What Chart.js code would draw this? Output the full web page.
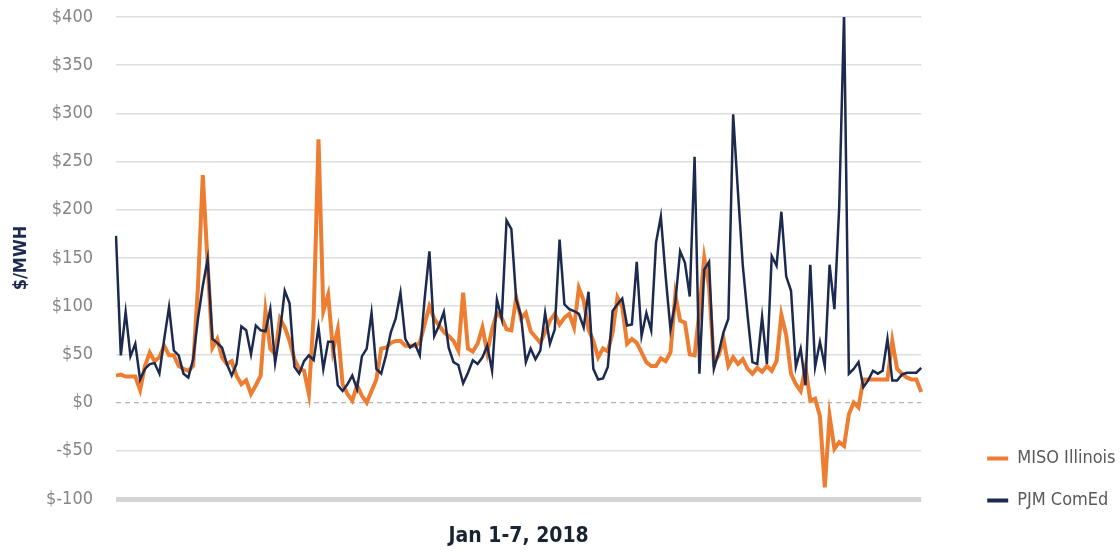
<!DOCTYPE html>
<html><head><meta charset="utf-8">
<script src="https://cdn.jsdelivr.net/npm/chart.js@4/dist/chart.umd.min.js"></script>
<style>html,body{margin:0;padding:0;background:#fff;}#wrap{width:1120px;height:552px;}</style>
</head><body><div id="wrap"><canvas id="c" width="1120" height="552"></canvas></div>
<script>
const days = ['Jan 1','Jan 2','Jan 3','Jan 4','Jan 5','Jan 6','Jan 7'];
const hours = ['00:00','01:00','02:00','03:00','04:00','05:00','06:00','07:00','08:00','09:00','10:00','11:00',
  '12:00','13:00','14:00','15:00','16:00','17:00','18:00','19:00','20:00','21:00','22:00','23:00'];
const categories = days.flatMap(d => hours.map(h => d + ' ' + h));
const seriesNames = ['MISO Illinois', 'PJM ComEd'];
const misoIllinois = [
  28,29,27,27,27,13,38,52,43,47, 59,49,49,38,35,33,38,120,236,145,
  57,66,47,40,43,28,19,23,9,18, 28,95,56,50,87,78,64,45,35,33,
  9,90,273,95,112,54,76,19,9,2, 18,7,0,12,24,56,57,62,64,64,
  59,59,59,62,81,100,87,80,73,69, 64,54,114,56,53,61,78,52,76,93,
  88,76,75,109,87,93,74,68,62,73, 85,92,81,88,92,78,119,106,76,64,
  47,56,53,73,109,99,61,66,62,52, 42,38,38,46,43,52,112,85,83,50,
  49,95,150,120,42,49,66,38,47,40, 45,35,30,36,32,38,33,43,91,70,
  30,19,12,37,2,4,-14,-88,-14,-48, -41,-45,-12,0,-5,24,24,24,24,24,
  24,64,35,30,26,24,24,11
];
const pjmComEd = [
  173,49,94,48,61,24,35,40,41,30, 66,99,54,49,30,26,45,87,121,149,
  66,62,57,40,28,40,79,75,50,80, 75,74,97,41,73,116,103,37,30,43,
  49,44,78,35,63,63,18,12,19,28, 14,48,56,93,35,30,49,73,87,114,
  66,57,61,49,107,157,69,80,94,57, 42,39,20,31,44,40,47,59,33,107,
  87,189,180,107,90,42,56,45,54,93, 61,76,169,102,97,95,92,78,115,35,
  24,25,37,95,102,108,80,81,146,69, 93,75,166,193,131,76,104,157,145,110,
  255,30,138,146,35,52,73,87,299,218, 142,90,42,40,89,40,152,142,198,131,
  116,37,56,18,143,37,63,38,143,97, 204,404,30,35,42,16,23,33,30,33,
  66,23,23,29,31,31,31,36
];
const yTickLabels = ['$-100','-$50','$0','$50','$100','$150','$200','$250','$300','$350','$400'];
const yTitle = '$/MWH';
const xTitle = 'Jan 1-7, 2018';

const FONT = "'Liberation Sans Narrow', 'DejaVu Sans Condensed', 'Roboto Condensed', Roboto, sans-serif";
const ORANGE = '#ED7D31';
const NAVY = '#1B2A4E';

const zeroLine = {
  id: 'zeroLine',
  beforeDatasetsDraw(chart) {
    const {ctx, chartArea, scales} = chart;
    const py = scales.y.getPixelForValue(0);
    ctx.save();
    ctx.strokeStyle = '#b5b5b5';
    ctx.lineWidth = 1.3;
    ctx.setLineDash([5, 4]);
    ctx.beginPath();
    ctx.moveTo(chartArea.left, py);
    ctx.lineTo(chartArea.right, py);
    ctx.stroke();
    ctx.restore();
  }
};

new Chart(document.getElementById('c'), {
  type: 'line',
  data: {
    labels: categories,
    datasets: [
      { label: seriesNames[0], data: misoIllinois, borderColor: ORANGE, backgroundColor: ORANGE,
        borderWidth: 4, pointRadius: 0, tension: 0, order: 1 },
      { label: seriesNames[1], data: pjmComEd, borderColor: NAVY, backgroundColor: NAVY,
        borderWidth: 2.5, pointRadius: 0, tension: 0, order: 0 }
    ]
  },
  options: {
    responsive: false,
    animation: false,
    devicePixelRatio: 1,
    layout: { padding: { top: 17, left: 0, right: -5.5, bottom: 18.5 } },
    plugins: {
      tooltip: { enabled: false },
      legend: {
        position: 'right',
        align: 'end',
        labels: {
          font: { family: FONT, size: 18 },
          color: '#595959',
          boxWidth: 21,
          boxHeight: 4,
          padding: 24,
          sort: (a, b) => a.datasetIndex - b.datasetIndex,
          generateLabels: (chart) => Chart.defaults.plugins.legend.labels.generateLabels(chart)
            .map(l => Object.assign(l, { lineWidth: 0 }))
        }
      }
    },
    scales: {
      x: {
        ticks: { display: false },
        grid: { display: false, drawTicks: false },
        border: { display: false },
        title: { display: true, text: xTitle, color: '#1a2332',
          font: { family: FONT, size: 21, weight: 'bold' }, padding: { top: 0, bottom: -16 } },
        afterFit: (s) => { s.height = 34.5; }
      },
      y: {
        min: -100, max: 400,
        ticks: { stepSize: 50, padding: 0, color: '#858585',
          font: { family: FONT, size: 18 },
          callback: (v, i) => yTickLabels[i] },
        grid: {
          drawTicks: true,
          tickLength: 23,
          tickColor: 'rgba(0,0,0,0)',
          color: (c) => c.tick && c.tick.value === 0 ? 'rgba(0,0,0,0)' : (c.tick && c.tick.value === -100 ? '#d4d4d4' : '#dedede'),
          lineWidth: (c) => c.tick && c.tick.value === -100 ? 5 : 1.5
        },
        border: { display: false },
        title: { display: true, text: yTitle, color: NAVY,
          font: { family: FONT, size: 18, weight: 'bold' }, padding: { top: 11, bottom: 0 } },
        afterFit: (s) => { s.width = 116; }
      },
      yPad: {
        position: 'right',
        display: true,
        grid: { display: false, drawTicks: false },
        border: { display: false },
        ticks: { display: false },
        afterFit: (s) => { s.width = 42; }
      }
    }
  },
  plugins: [zeroLine]
});
</script>
</body></html>
